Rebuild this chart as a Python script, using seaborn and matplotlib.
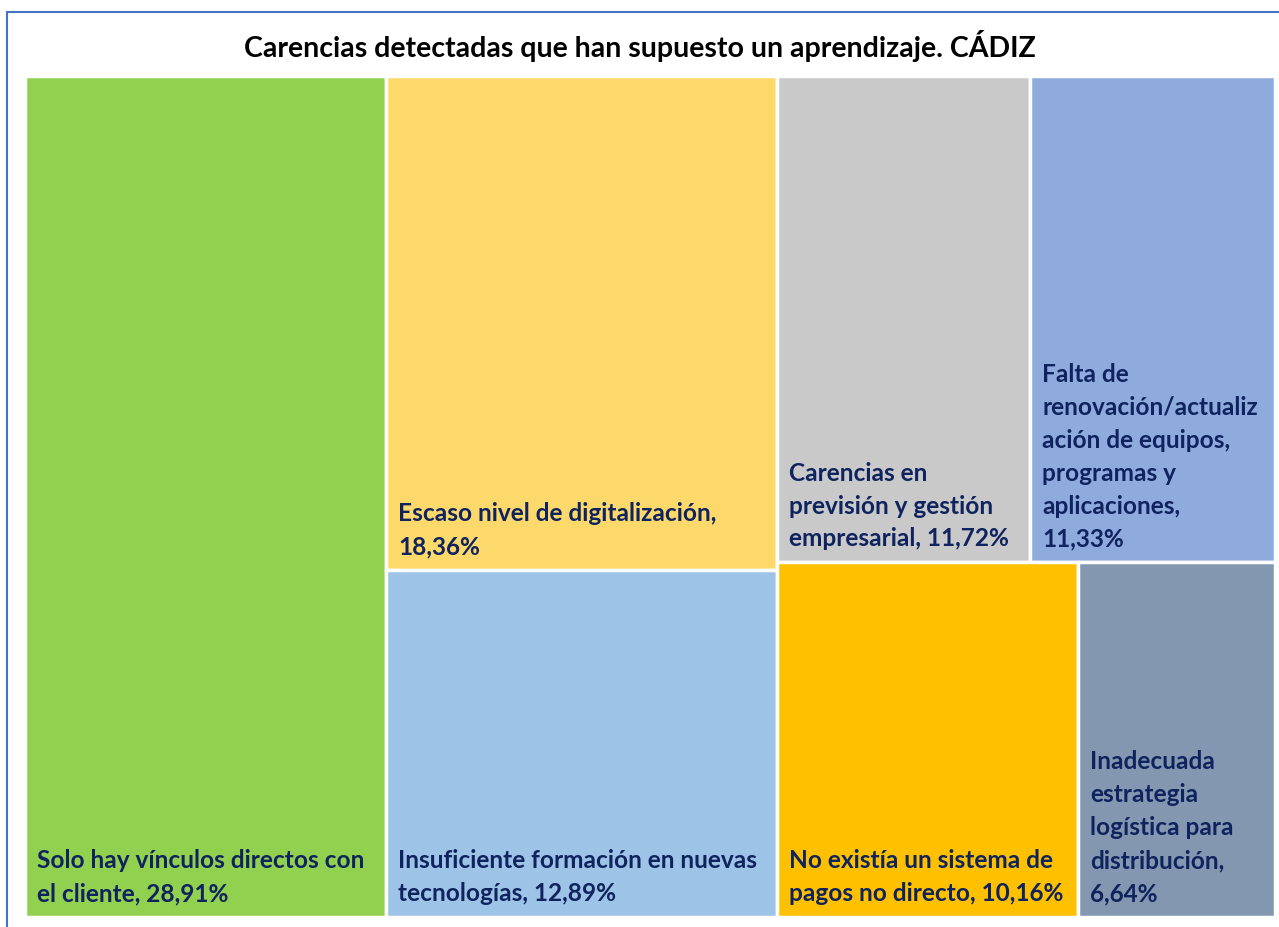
import matplotlib
matplotlib.use("Agg")
import matplotlib.pyplot as plt
from matplotlib.patches import Rectangle
import seaborn as sns

sns.set_theme(style="white")
plt.rcParams["font.family"] = ["Lato", "DejaVu Sans"]

title = "Carencias detectadas que han supuesto un aprendizaje. CÁDIZ"

categories = [
    "Solo hay vínculos directos con\nel cliente",
    "Escaso nivel de digitalización,\n",
    "Insuficiente formación en nuevas\ntecnologías",
    "Carencias en\nprevisión y gestión\nempresarial",
    "Falta de\nrenovación/actualiz\nación de equipos,\nprogramas y\naplicaciones,\n",
    "No existía un sistema de\npagos no directo",
    "Inadecuada\nestrategia\nlogística para\ndistribución,\n",
]
values = [28.91, 18.36, 12.89, 11.72, 11.33, 10.16, 6.64]
colors = ["#92D050", "#FDD86A", "#9DC3E6", "#C9C9C9", "#8FAADC", "#FFC000", "#8497B0"]

# Treemap structure: columns, each column a list of rows, each row a list of item indices
layout = [
    [[0]],
    [[1], [2]],
    [[3, 4], [5, 6]],
]

W, H = 1279, 928
fig = plt.figure(figsize=(W / 100, H / 100), dpi=100)
ax = fig.add_axes([25 / W, 1 - 918 / H, 1250 / W, 841 / H])
ax.set_xlim(0, 100)
ax.set_ylim(100, 0)
ax.axis("off")

total = sum(values)
text_color = "#0F235E"

x = 0.0
for col in layout:
    col_sum = sum(values[i] for row in col for i in row)
    col_w = 100 * col_sum / total
    y = 0.0
    for row in col:
        row_sum = sum(values[i] for i in row)
        row_h = 100 * row_sum / col_sum
        xx = x
        for i in row:
            w = col_w * values[i] / row_sum
            ax.add_patch(Rectangle((xx, y), w, row_h, facecolor=colors[i],
                                   edgecolor="white", linewidth=2.5))
            label = categories[i]
            val = f"{values[i]:.2f}".replace(".", ",") + "%"
            if label.endswith("\n"):
                text = label + val
            else:
                text = label + ", " + val
            ax.annotate(text, xy=(xx, y + row_h), xytext=(12, 13),
                        textcoords="offset pixels", ha="left", va="bottom",
                        fontsize=17.6, fontweight="bold", color=text_color,
                        linespacing=1.52)
            xx += w
        y += row_h
    x += col_w

fig.text(0.5, 1 - 46 / H, title, ha="center", va="center",
         fontsize=20.5, fontweight="bold", color="black")

# Outer frame of the chart area
fig.patches.append(Rectangle((7 / W, -0.05), 1.1, 1 - 13 / H + 0.05,
                             transform=fig.transFigure, fill=False,
                             edgecolor="#4472C4", linewidth=1.5))

fig.savefig("out.png", dpi=100, facecolor="white")
